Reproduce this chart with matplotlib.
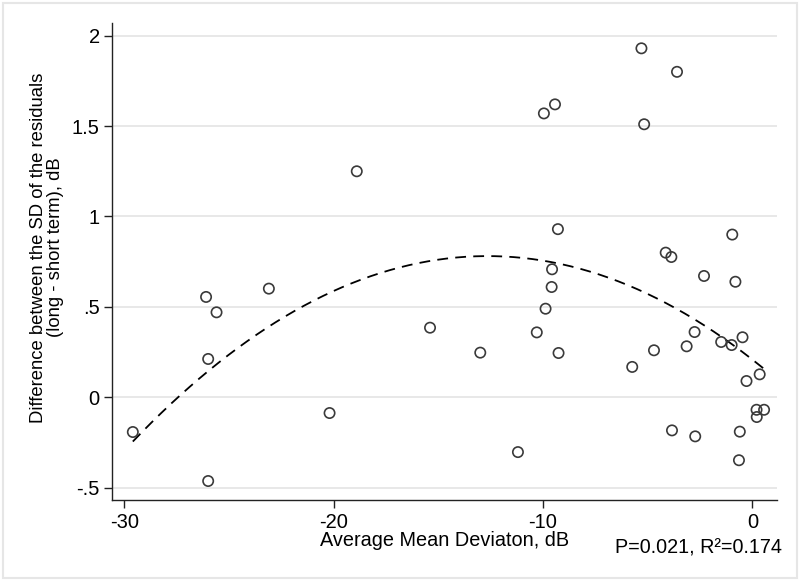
import numpy as np
import matplotlib
matplotlib.use("Agg")
import matplotlib.pyplot as plt
from matplotlib.patches import Rectangle

plt.rcParams['font.family'] = ['Liberation Sans', 'DejaVu Sans']

# Average mean deviation (dB) and difference in SD of residuals (dB)
md = [-18.9, -5.3, -3.6, -9.96, -9.43, -5.17, -9.29, -0.96, -4.14, -3.87,
      -2.31, -0.81, -9.57, -9.59,
      -26.1, -25.6, -23.1, -26.0, -29.6, -20.2, -26.0,
      -15.4, -13.0, -10.3, -9.88, -9.26, -11.2, -5.74, -4.70, -3.14,
      -2.76, -1.49, -0.99, -0.47, 0.35, -0.28, 0.20, 0.56, 0.21,
      -3.84, -2.73, -0.60, -0.64]
sd_diff = [1.25, 1.93, 1.80, 1.57, 1.62, 1.51, 0.93, 0.90, 0.80, 0.776,
           0.671, 0.639, 0.708, 0.610,
           0.555, 0.470, 0.601, 0.212, -0.192, -0.087, -0.463,
           0.385, 0.247, 0.359, 0.490, 0.245, -0.303, 0.168, 0.260, 0.282,
           0.361, 0.306, 0.289, 0.332, 0.127, 0.090, -0.069, -0.069, -0.109,
           -0.183, -0.216, -0.190, -0.348]

xticks = [-30, -20, -10, 0]
xtick_labels = ['-30', '-20', '-10', '0']
yticks = [-0.5, 0, 0.5, 1, 1.5, 2]
ytick_labels = ['-.5', '0', '.5', '1', '1.5', '2']

fig = plt.figure(figsize=(8, 5.81), dpi=100)
ax = fig.add_axes([0.1396, 0.1394, 0.8312, 0.821])

# quadratic fit (qfit)
coef = np.polyfit(md, sd_diff, 2)
xs = np.linspace(min(md), max(md), 200)
ax.plot(xs, np.polyval(coef, xs), color='black', lw=1.3, ls=(0, (6, 4)), zorder=2)

ax.scatter(md, sd_diff, s=55, facecolors='none', edgecolors='#3a3a3a', linewidths=1.2, zorder=3)

ax.set_xlim(-30.61, 1.16)
ax.set_ylim(-0.568, 2.07)
ax.set_xticks(xticks)
ax.set_xticklabels(xtick_labels)
ax.set_yticks(yticks)
ax.set_yticklabels(ytick_labels)
ax.yaxis.grid(True, color='#e2e2e2', lw=1.1)
ax.set_axisbelow(True)
for s in ['top', 'right']:
    ax.spines[s].set_visible(False)
for s in ['left', 'bottom']:
    ax.spines[s].set_color('#222222')
    ax.spines[s].set_linewidth(1.0)
ax.tick_params(labelsize=14.5, length=6, width=1.0, color='#222222', direction='out')
ax.tick_params(axis='y', pad=2.5)

ax.set_xlabel('Average Mean Deviaton, dB', fontsize=14.3)
ax.xaxis.set_label_coords(0.5, -0.066)
ax.set_ylabel('Difference between the SD of the residuals\n(long - short term), dB',
              fontsize=13.3, linespacing=1.0)
ax.yaxis.set_label_coords(-0.071, 0.529)
fig.text(0.977, 0.057, 'P=0.021, R²=0.174', ha='right', va='center', fontsize=14.2)

fig.patches.append(Rectangle((0.004, 0.005), 0.992, 0.99, transform=fig.transFigure,
                             fill=False, edgecolor='#e6e6e6', lw=1.5))

fig.savefig('out.png', dpi=100, facecolor='white')
